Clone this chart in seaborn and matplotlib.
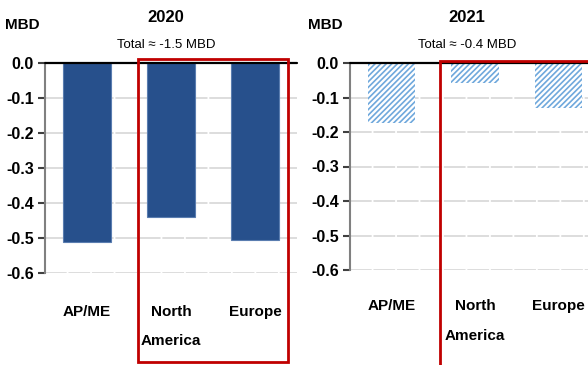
import matplotlib
matplotlib.use("Agg")
import matplotlib.pyplot as plt
from matplotlib.patches import Rectangle
import seaborn as sns
import pandas as pd

# Data (MBD)
regions = ["AP/ME", "North\nAmerica", "Europe"]
vals_2020 = [-0.51, -0.44, -0.505]
vals_2021 = [-0.175, -0.057, -0.13]
yticks = [0.0, -0.1, -0.2, -0.3, -0.4, -0.5, -0.6]
titles = ["2020", "2021"]
subtitles = ["Total \u2248 -1.5 MBD", "Total \u2248 -0.4 MBD"]

DARK_BLUE = "#27508C"
LIGHT_BLUE = "#6FA8DC"
RED = "#C00000"

sns.set_theme(style="white")
plt.rcParams["font.family"] = ["Liberation Sans", "DejaVu Sans"]
plt.rcParams["hatch.linewidth"] = 1.2
plt.rcParams["text.color"] = "black"
plt.rcParams["xtick.color"] = "black"
plt.rcParams["ytick.color"] = "black"

W, H = 588, 365
fig = plt.figure(figsize=(W / 100, H / 100), dpi=100)


def fx(px):
    return px / W


def fy(py):
    return 1 - py / H


# axes boxes in pixel coords: left, top, right, bottom
boxes = [(45, 63, 297, 273), (350, 63, 600, 270)]
label_pad = [23, 21]
axes = []
for (l, t, r, b) in boxes:
    axes.append(fig.add_axes([fx(l), fy(b), fx(r) - fx(l), fy(t) - fy(b)]))

for i, (ax, vals) in enumerate(zip(axes, [vals_2020, vals_2021])):
    df = pd.DataFrame({"region": regions, "value": vals})
    if i == 0:
        sns.barplot(data=df, x="region", y="value", ax=ax, color=DARK_BLUE,
                    width=0.57, saturation=1, edgecolor="#5A7DB0", linewidth=0.8)
    else:
        sns.barplot(data=df, x="region", y="value", ax=ax, color="white",
                    width=0.57, saturation=1, linewidth=0)
        for p in ax.patches:
            p.set_facecolor("white")
            p.set_edgecolor(LIGHT_BLUE)
            p.set_hatch("//////")
            p.set_linewidth(0)

    ax.set_xlim(-0.5, 2.5)
    ax.set_ylim(-0.6, 0.0)
    ax.set_yticks(yticks)
    ax.set_yticklabels([f"{v:.1f}" if v != 0 else "0.0" for v in yticks],
                       fontsize=11.5, fontweight="bold")
    for v in yticks[1:]:
        ax.axhline(v, color="#DADADA", lw=1.3, ls=(0, (12, 1)), zorder=0)
    ax.axhline(0, color="black", lw=1.6, zorder=3, clip_on=False)
    ax.set_xlabel("")
    ax.set_ylabel("")
    for s in ["top", "right", "bottom"]:
        ax.spines[s].set_visible(False)
    ax.spines["left"].set_color("#808080")
    ax.spines["left"].set_linewidth(1.5)
    ax.tick_params(axis="y", which="both", left=True, direction="out",
                   length=5, width=1.5, color="#404040", pad=3)
    ax.tick_params(axis="x", length=0, pad=label_pad[i])
    for lab in ax.get_xticklabels():
        lab.set_verticalalignment("top")
        lab.set_linespacing(2.4)
        lab.set_fontsize(11)
        lab.set_fontweight("bold")

# titles and unit labels
title_x = [166, 467]
unit_x = [22, 325]
for i in range(2):
    fig.text(fx(title_x[i]), fy(18), titles[i], ha="center", va="center",
             fontsize=12, fontweight="bold")
    fig.text(fx(title_x[i]), fy(45), subtitles[i], ha="center", va="center",
             fontsize=9.5)
    fig.text(fx(unit_x[i]), fy(25), "MBD", ha="center", va="center",
             fontsize=11, fontweight="bold")

# red highlight boxes
fig.patches.append(Rectangle((fx(138), fy(362)), fx(288) - fx(138),
                             fy(59) - fy(362), transform=fig.transFigure,
                             fill=False, edgecolor=RED, lw=2))
fig.patches.append(Rectangle((fx(440), fy(366)), fx(600) - fx(440),
                             fy(61) - fy(366), transform=fig.transFigure,
                             fill=False, edgecolor=RED, lw=2, clip_on=False))

fig.savefig("out.png", dpi=100)
